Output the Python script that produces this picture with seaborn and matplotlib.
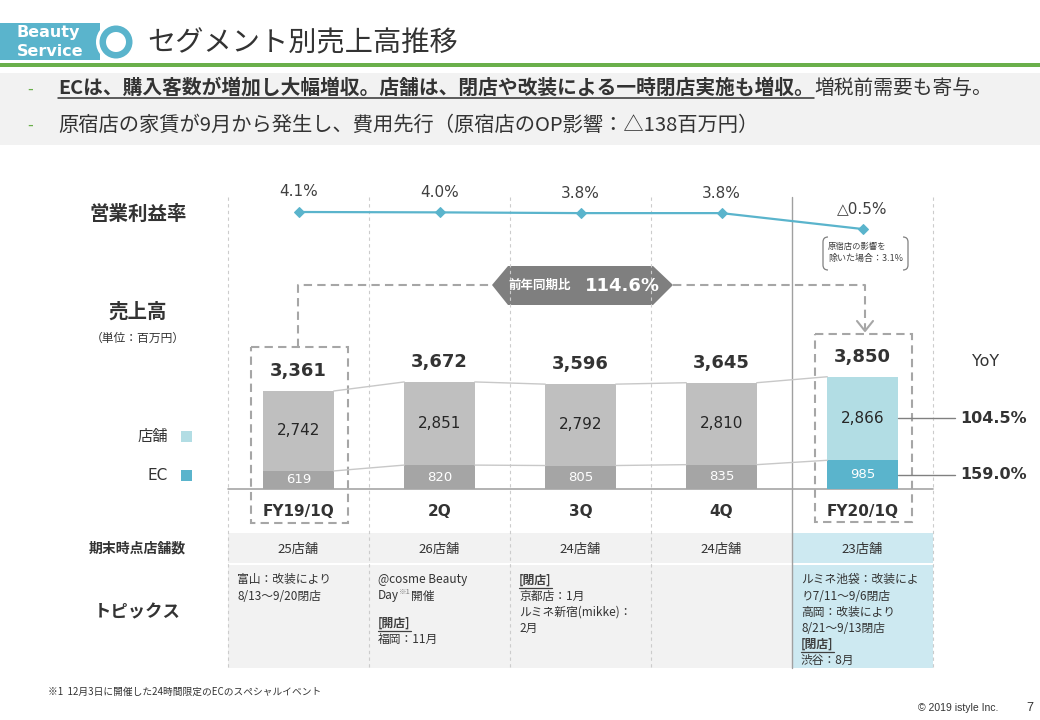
import matplotlib
matplotlib.use('Agg')
import matplotlib.pyplot as plt
import seaborn as sns
import pandas as pd
from matplotlib.patches import Rectangle, Polygon, Circle, PathPatch
from matplotlib.path import Path

# ---------------- data ----------------
quarters = ['FY19/1Q', '2Q', '3Q', '4Q', 'FY20/1Q']
store_sales = [2742, 2851, 2792, 2810, 2866]
ec_sales = [619, 820, 805, 835, 985]
total_sales = [3361, 3672, 3596, 3645, 3850]
op_margin = [4.1, 4.0, 3.8, 3.8, -0.5]
store_counts = ['25店舗', '26店舗', '24店舗', '24店舗', '23店舗']
segment_yoy_labels = ['104.5%', '159.0%']
topics = [
    ['富山：改装により', '8/13～9/20閉店'],
    ['@cosme Beauty', 'Day※1開催', '', '[開店]', '福岡：11月'],
    ['[閉店]', '京都店：1月', 'ルミネ新宿(mikke)：', '2月'],
    [],
    ['ルミネ池袋：改装によ', 'り7/11～9/6閉店', '高岡：改装により', '8/21～9/13閉店', '[閉店]', '渋谷：8月'],
]
yoy_total_label = '114.6%'
excl_note = ['原宿店の影響を', '除いた場合：3.1%']
bullet1_bold = 'ECは、購入客数が増加し大幅増収。店舗は、閉店や改装による一時閉店実施も増収。'
bullet1_norm = '増税前需要も寄与。'
bullet2 = '原宿店の家賃が9月から発生し、費用先行（原宿店のOP影響：△138百万円）'
footnote = '※1  12月3日に開催した24時間限定のECのスペシャルイベント'

df = pd.DataFrame({'q': quarters, 'store': store_sales, 'ec': ec_sales,
                   'total': total_sales, 'margin': op_margin})

# ---------------- style ----------------
sns.set_theme(style='white')
JP = ['Noto Sans CJK JP', 'DejaVu Sans']
NUM = ['DejaVu Sans', 'Noto Sans CJK JP']
plt.rcParams['font.family'] = JP

TEAL = '#5ab4cc'
LIGHT_TEAL = '#b2dde4'
GRAY_STORE = '#bfbfbf'
GRAY_EC = '#a5a5a5'
DARK = '#333333'
store_colors = [GRAY_STORE] * 4 + [LIGHT_TEAL]
ec_colors = [GRAY_EC] * 4 + [TEAL]

W, H = 1040, 720
fig = plt.figure(figsize=(W / 100, H / 100), dpi=100)
bg = fig.add_axes([0, 0, 1, 1])
bg.set_xlim(0, W)
bg.set_ylim(H, 0)
bg.axis('off')
r = fig.canvas.get_renderer()

# ---------------- header ----------------
bg.add_patch(Rectangle((0, 23), 100, 37, color=TEAL, lw=0))
bg.add_patch(Circle((116, 42), 20, color='white', lw=0))
bg.add_patch(Circle((116, 42), 16.5, color=TEAL, lw=0))
bg.add_patch(Circle((116, 42), 10, color='white', lw=0))
bg.text(17, 33, 'Beauty', family=NUM, weight='bold', color='white', fontsize=11.5, va='center')
bg.text(17, 51, 'Service', family=NUM, weight='bold', color='white', fontsize=11.5, va='center')
bg.text(147, 43, 'セグメント別売上高推移', fontsize=20.3, color=DARK, va='center')
bg.add_patch(Rectangle((0, 63), W, 3.5, color='#6aaf4b', lw=0))
bg.add_patch(Rectangle((0, 73), W, 72, color='#f2f2f2', lw=0))

bg.text(27, 89, '-', color='#6aaf4b', fontsize=12, va='center')
bg.text(27, 125, '-', color='#6aaf4b', fontsize=12, va='center')
t1 = bg.text(58, 88, bullet1_bold, fontsize=14.2, weight='bold', color=DARK, va='center')
bb = t1.get_window_extent(renderer=r)
bg.plot([58, bb.x1], [97.5, 97.5], color=DARK, lw=1.1)
bg.text(bb.x1, 88, bullet1_norm, fontsize=14.2, color=DARK, va='center')
bg.text(58, 125, bullet2, fontsize=14.6, color=DARK, va='center')

# ---------------- table / grid ----------------
col_edges = [228, 369, 510, 651, 792, 933]
bg.add_patch(Rectangle((228, 533), 705, 30, color='#f2f2f2', lw=0))
bg.add_patch(Rectangle((792, 533), 141, 30, color='#cde9f1', lw=0))
bg.add_patch(Rectangle((228, 565), 705, 103, color='#f2f2f2', lw=0))
bg.add_patch(Rectangle((792, 565), 141, 103, color='#cde9f1', lw=0))
for i, x in enumerate(col_edges):
    if x == 792:
        bg.plot([x, x], [197, 668], color='#a0a0a0', lw=1)
    else:
        bg.plot([x, x], [197, 668], color='#cccccc', lw=0.8, ls=(0, (3, 3)))
bg.plot([228, 933], [489, 489], color='#a6a6a6', lw=1.2)

for i, s in enumerate(store_counts):
    cx = (col_edges[i] + col_edges[i + 1]) / 2
    bg.text(cx, 549, s, fontsize=9.5, color=DARK, ha='center', va='center')

for i, lines in enumerate(topics):
    x0 = col_edges[i] + 9
    y = 580
    for ln in lines:
        if ln == '':
            y += 11
            continue
        if ln.startswith('['):
            t = bg.text(x0, y, ln, fontsize=8.5, weight='bold', color='#404040', va='center')
            b = t.get_window_extent(renderer=r)
            bg.plot([x0, b.x1], [y + 7.5, y + 7.5], color='#404040', lw=0.9)
        elif '※1' in ln:
            a, c = ln.split('※1')
            t = bg.text(x0, y, a, fontsize=8.5, color=DARK, va='center')
            b = t.get_window_extent(renderer=r)
            t = bg.text(b.x1, y - 4, '※1', fontsize=5.5, color='#808080', va='center')
            b = t.get_window_extent(renderer=r)
            bg.text(b.x1, y, c, fontsize=8.5, color=DARK, va='center')
        else:
            bg.text(x0, y, ln, fontsize=8.5, color=DARK, va='center')
        y += 16

# left labels
bg.text(138, 214, '営業利益率', fontsize=14, weight='bold', color=DARK, ha='center', va='center')
bg.text(138, 312, '売上高', fontsize=14, weight='bold', color=DARK, ha='center', va='center')
bg.text(138, 338, '（単位：百万円）', fontsize=8.5, color=DARK, ha='center', va='center')
bg.text(137, 549, '期末時点店舗数', fontsize=10, weight='bold', color=DARK, ha='center', va='center')
bg.text(137, 612, 'トピックス', fontsize=12.5, weight='bold', color=DARK, ha='center', va='center')
bg.text(168, 436, '店舗', fontsize=11, color=DARK, ha='right', va='center')
bg.text(168, 476, 'EC', fontsize=11, family=NUM, color=DARK, ha='right', va='center')
bg.add_patch(Rectangle((181, 431), 11, 11, color=LIGHT_TEAL, lw=0))
bg.add_patch(Rectangle((181, 470), 11, 11, color=TEAL, lw=0))
bg.text(986, 362, 'YoY', fontsize=11.5, family=NUM, color=DARK, ha='center', va='center')

# footer
bg.text(48, 692, footnote, fontsize=7, color=DARK, va='center')
bg.text(998, 708, '© 2019 istyle Inc.', fontsize=7.5, family=['Liberation Sans'], color=DARK, ha='right', va='center')
bg.text(1030, 708, '7', fontsize=9, family=['Liberation Sans'], color=DARK, ha='center', va='center')

# ---------------- YoY callout ----------------
dash = (0, (4, 2.5))
CG = '#a6a6a6'
bg.add_patch(Rectangle((251, 347), 97, 176, fill=False, ec=CG, lw=1.5, ls=dash))
bg.add_patch(Rectangle((815, 334), 97, 188, fill=False, ec=CG, lw=1.5, ls=dash))
bg.plot([298, 298, 492], [347, 285, 285], color=CG, lw=1.5, ls=dash)
bg.plot([673, 865, 865], [285, 285, 329], color=CG, lw=1.5, ls=dash)
bg.plot([857, 865, 873], [321, 331, 321], color=CG, lw=1.5)
bg.add_patch(Polygon([(492, 285), (508, 266), (653, 266), (673, 285), (653, 305), (508, 305)],
                     closed=True, color='#7f7f7f', lw=0))
bg.text(540, 285, '前年同期比', fontsize=9, weight='bold', color='white', ha='center', va='center')
bg.text(622, 286, yoy_total_label, fontsize=13, family=NUM, weight='bold', color='white', ha='center', va='center')

# note bracket box
for a, b2 in [(828, 823), (903, 908)]:
    verts = [(a, 237), (b2, 237), (b2, 242), (b2, 265), (b2, 270), (a, 270)]
    codes = [Path.MOVETO, Path.CURVE3, Path.CURVE3, Path.LINETO, Path.CURVE3, Path.CURVE3]
    bg.add_patch(PathPatch(Path(verts, codes), fill=False, ec='#808080', lw=0.9))
bg.text(828, 246, excl_note[0], fontsize=6, color='#404040', va='center')
bg.text(828, 258, excl_note[1], fontsize=6.5, color='#404040', va='center')

# ---------------- bars ----------------
PX_PER_UNIT = 98 / 3361
ax = fig.add_axes([228 / W, (H - 489) / H, 705 / W, 155 / H])
ax.patch.set_alpha(0)
sns.barplot(data=df, x='q', y='total', hue='q', palette=store_colors, width=0.5,
            saturation=1, legend=False, ax=ax, linewidth=0)
sns.barplot(data=df, x='q', y='ec', hue='q', palette=ec_colors, width=0.5,
            saturation=1, legend=False, ax=ax, linewidth=0)
ax.set_xlim(-0.5, 4.5)
ax.set_ylim(0, 155 / PX_PER_UNIT)
ax.axis('off')

n = len(quarters)
for i in range(n - 1):
    for key in ['total', 'ec']:
        ax.plot([i + 0.25, i + 0.75], [df[key][i], df[key][i + 1]], color='#c8c8c8', lw=1, zorder=1)
for i in range(n):
    ax.annotate(f"{total_sales[i]:,}", (i, total_sales[i]), xytext=(0, 20), textcoords='offset pixels',
                ha='center', va='center', fontsize=13, weight='bold', family=NUM, color=DARK,
                annotation_clip=False)
    ax.annotate(f"{store_sales[i]:,}", (i, ec_sales[i] + store_sales[i] / 2), ha='center', va='center',
                fontsize=11, family=NUM, color='#262626', annotation_clip=False)
    ax.annotate(f"{ec_sales[i]:,}", (i, ec_sales[i] / 2), ha='center', va='center',
                fontsize=9.5, family=NUM, color='white', annotation_clip=False)
    ax.annotate(quarters[i], (i, 0), xytext=(0, -23), textcoords='offset pixels', ha='center', va='center',
                fontsize=11, weight='bold', family=NUM, color=DARK, annotation_clip=False)

# YoY per segment
last = n - 1
mids = [ec_sales[last] + store_sales[last] / 2, ec_sales[last] / 2]
for lab, ymid in zip(segment_yoy_labels, mids):
    ax.plot([last + 0.25, last + 0.656], [ymid, ymid], color='#808080', lw=1, clip_on=False)
    ax.annotate(lab, (last + 0.69, ymid), ha='left', va='center', fontsize=11.5,
                weight='bold', family=NUM, color=DARK, annotation_clip=False)

# ---------------- operating margin line ----------------
ax2 = fig.add_axes([228 / W, (H - 240) / H, 705 / W, 60 / H])
ax2.patch.set_alpha(0)
sns.lineplot(data=df, x='q', y='margin', ax=ax2, color=TEAL, lw=1.6, marker='D', markersize=5,
             markeredgecolor=TEAL, sort=False)
ax2.set_xlim(-0.5, 4.5)
ax2.set_ylim(4.1 - 28 / 3.7, 4.1 + 32 / 3.7)
ax2.axis('off')
for i, v in enumerate(op_margin):
    lab = f"{v:.1f}%" if v >= 0 else f"△{abs(v):.1f}%"
    ax2.annotate(lab, (i, v), xytext=(0, 20), textcoords='offset pixels', ha='center', va='center',
                 fontsize=11, family=NUM, color='#404040', annotation_clip=False)

fig.savefig('out.png', dpi=100)
